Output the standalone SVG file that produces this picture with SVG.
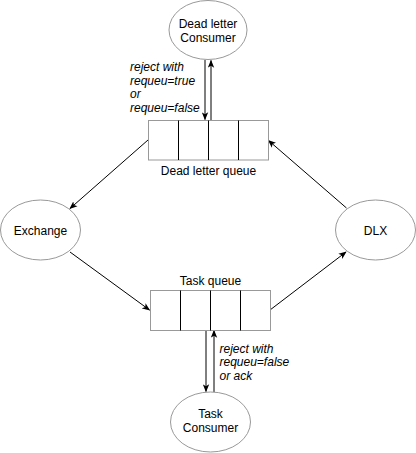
<svg xmlns="http://www.w3.org/2000/svg" width="416" height="453" viewBox="0 0 416 453">
<defs>
<style>
.node{fill:#fff;stroke:#999;stroke-width:1}
.div{stroke:#000;stroke-width:1}
.edge{fill:none;stroke:#000;stroke-width:1}
.t{font-family:"Liberation Sans",Arial,sans-serif;font-size:12px;fill:#000}
.c{text-anchor:middle}
.i{font-style:italic}
</style>
<marker id="ah" viewBox="0 0 10 8" refX="9" refY="4" markerWidth="8" markerHeight="7" markerUnits="userSpaceOnUse" orient="auto">
<path d="M0,0 L10,4 L0,8 L2.5,4 Z" fill="#000"/>
</marker>
</defs>
<rect width="416" height="453" fill="#fff"/>
<g id="connectors">
<line class="edge" x1="205" y1="60" x2="205" y2="119.5" marker-end="url(#ah)"/>
<line class="edge" x1="211" y1="120" x2="211" y2="60.5" marker-end="url(#ah)"/>
<line class="edge" x1="148" y1="140" x2="70" y2="208.5" marker-end="url(#ah)"/>
<line class="edge" x1="70" y1="252" x2="149.5" y2="310" marker-end="url(#ah)"/>
<line class="edge" x1="270" y1="310" x2="346" y2="252" marker-end="url(#ah)"/>
<line class="edge" x1="346.5" y1="208" x2="268.5" y2="140.5" marker-end="url(#ah)"/>
<line class="edge" x1="206" y1="330" x2="206" y2="391.5" marker-end="url(#ah)"/>
<line class="edge" x1="214" y1="392" x2="214" y2="330.5" marker-end="url(#ah)"/>
<text class="t i" x="130" y="71">reject with</text>
<text class="t i" x="130" y="84.5">requeu=true</text>
<text class="t i" x="130" y="98">or</text>
<text class="t i" x="130" y="111.5">requeu=false</text>
<text class="t i" x="219.5" y="352.5">reject with</text>
<text class="t i" x="219.5" y="366">requeu=false</text>
<text class="t i" x="219.5" y="379.5">or ack</text>
</g>
<g id="dead-letter-consumer">
<ellipse class="node" cx="208" cy="30" rx="39" ry="29.5"/>
<text class="t c" x="208" y="27.5">Dead letter</text>
<text class="t c" x="208" y="41.5">Consumer</text>
</g>
<g id="dead-letter-queue">
<rect class="node" x="148.5" y="120.5" width="120" height="39.5"/>
<line class="div" x1="178.5" y1="120.5" x2="178.5" y2="160"/>
<line class="div" x1="208.5" y1="120.5" x2="208.5" y2="160"/>
<line class="div" x1="238.5" y1="120.5" x2="238.5" y2="160"/>
<text class="t c" x="208.5" y="174.5">Dead letter queue</text>
</g>
<g id="exchange">
<ellipse class="node" cx="40.5" cy="230" rx="40" ry="30"/>
<text class="t c" x="40.5" y="234.5">Exchange</text>
</g>
<g id="dlx">
<ellipse class="node" cx="375.5" cy="230" rx="40" ry="30"/>
<text class="t c" x="375.5" y="234.5">DLX</text>
</g>
<g id="task-queue">
<text class="t c" x="210.5" y="285">Task queue</text>
<rect class="node" x="150.5" y="290.5" width="120" height="40"/>
<line class="div" x1="180.5" y1="290.5" x2="180.5" y2="330.5"/>
<line class="div" x1="210.5" y1="290.5" x2="210.5" y2="330.5"/>
<line class="div" x1="240.5" y1="290.5" x2="240.5" y2="330.5"/>
</g>
<g id="task-consumer">
<ellipse class="node" cx="210.5" cy="422" rx="40" ry="30"/>
<text class="t c" x="210.5" y="418">Task</text>
<text class="t c" x="210.5" y="432">Consumer</text>
</g>
</svg>
